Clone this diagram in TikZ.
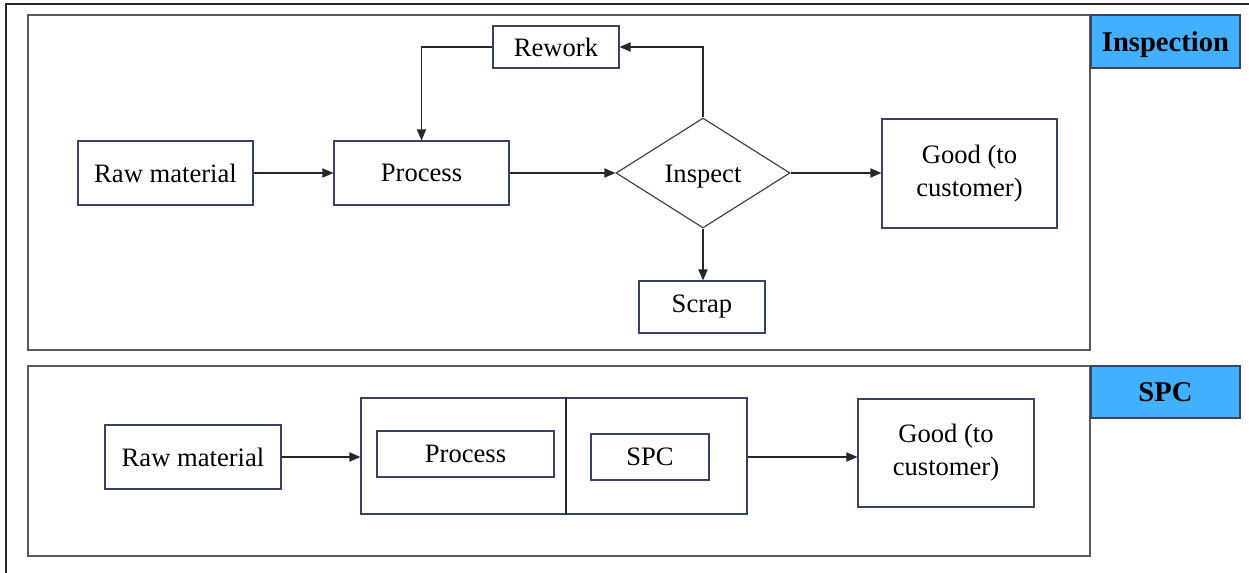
\documentclass[tikz,border=0pt]{standalone}
\usepackage{fontspec}
\setmainfont{Liberation Serif}
\usetikzlibrary{shapes.geometric,arrows.meta}
\definecolor{edgeblue}{HTML}{3B4262}
\definecolor{panelgray}{HTML}{5A5A5A}
\definecolor{tagblue}{HTML}{42AFFF}
\definecolor{linegray}{HTML}{262626}
\begin{document}
\begin{tikzpicture}[x=0.5pt,y=-0.5pt,
  every node/.style={font=\fontsize{13.3}{16.5}\selectfont, text=black},
  box/.style={draw=edgeblue, line width=0.6pt, rectangle, inner sep=0pt, align=center},
  decision/.style={draw=edgeblue, line width=0.6pt, diamond, inner sep=0pt, minimum width=87pt, minimum height=55pt},
  panel/.style={draw=panelgray, line width=0.6pt},
  tag/.style={draw=edgeblue, line width=0.6pt, fill=tagblue, rectangle, inner sep=0pt,
    minimum width=74.5pt, font=\fontsize{14.3}{16.5}\selectfont\bfseries},
  arr/.style={draw=linegray, line width=0.6pt, -{Triangle[length=5.5pt,width=4.6pt]}},
  plain/.style={draw=linegray, line width=0.6pt}]
\useasboundingbox (0,0) rectangle (1249,573);

% page frame
\draw[linegray, line width=0.6pt] (1249,4) -- (6,4) -- (6,573);

% panels
\draw[panel] (28,15) rectangle (1090,350);
\draw[panel] (28,366) rectangle (1090,556);

% panel tags
\node[tag, minimum height=26.5pt, text depth=0pt] (taginsp) at (1165.5,41.5) {Inspection};
\node[tag, minimum height=26pt] (tagspc) at (1165.5,392) {SPC};

% inspection flow
\node[box, minimum width=87.5pt, minimum height=32pt] (raw1) at (165.5,173) {Raw material};
\node[box, minimum width=87.5pt, minimum height=32pt] (proc1) at (421.5,173) {Process};
\node[decision] (insp) at (703,173) {};
\node[anchor=base, inner sep=0pt] (insplabel) at (703,182) {Inspect};
\node[box, minimum width=87.5pt, minimum height=54.5pt] (good1) at (969.5,173.5) {Good (to\\customer)};
\node[box, minimum width=63pt, minimum height=21pt] (rework) at (556,47) {Rework};
\node[box, minimum width=63pt, minimum height=26pt] (scrap) at (702,307) {Scrap};

\draw[arr] (raw1) -- (proc1);
\draw[arr] (proc1) -- (insp);
\draw[arr] (insp.east) -- (insp.east -| good1.west);
\draw[arr] (insp.north) |- (rework.east);
\draw[arr] (rework.west) -| (proc1.north);
\draw[arr] (insp.south) -- (insp.south |- scrap.north);

% SPC flow
\node[box, minimum width=88pt, minimum height=32pt] (raw2) at (193,457) {Raw material};
\node[box, minimum width=193pt, minimum height=58pt] (stage) at (554,456) {};
\draw[plain] (566,0 |- stage.north) coordinate (divtop) -- (divtop |- stage.south);
\node[box, minimum width=88.5pt, minimum height=23pt] (proc2) at (465.5,454) {Process};
\node[box, minimum width=59pt, minimum height=23pt] (spc) at (650,457) {SPC};
\node[box, minimum width=88pt, minimum height=54pt] (good2) at (946,453) {Good (to\\customer)};

\draw[arr] (raw2.east) -- (raw2.east -| stage.west);
\draw[arr] (stage.east |- raw2.east) -- (good2.west |- raw2.east);
\end{tikzpicture}
\end{document}
